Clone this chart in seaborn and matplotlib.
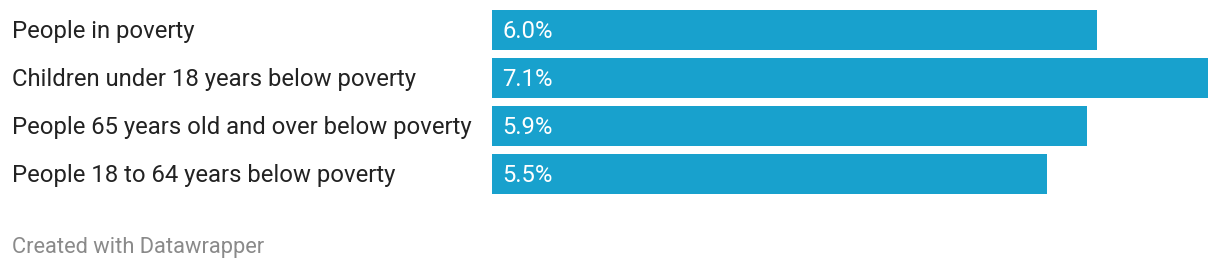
import matplotlib
matplotlib.use("Agg")
import matplotlib.pyplot as plt
import matplotlib.transforms as mtransforms
import seaborn as sns
import pandas as pd

categories = [
    "People in poverty",
    "Children under 18 years below poverty",
    "People 65 years old and over below poverty",
    "People 18 to 64 years below poverty",
]
values = [6.0, 7.1, 5.9, 5.5]
value_labels = ["6.0%", "7.1%", "5.9%", "5.5%"]

sns.set_theme(style="white")
plt.rcParams["font.family"] = ["Roboto", "DejaVu Sans"]

W, H = 1220, 270
fig = plt.figure(figsize=(W / 100, H / 100), dpi=100)
left, right = 492 / W, 1208 / W
top, bottom = 1 - 10 / H, 1 - 194 / H
ax = fig.add_axes([left, bottom, right - left, top - bottom])

df = pd.DataFrame({"cat": categories, "val": values})
bw = 40 / 48
sns.barplot(data=df, x="val", y="cat", orient="h", color="#18a1cd",
            saturation=1, width=bw, linewidth=0, ax=ax)
ax.set_xlim(0, max(values))
ax.set_ylim(len(categories) - 1 + bw / 2, -bw / 2)
ax.set_xlabel("")
ax.set_ylabel("")
ax.set_xticks([])
ax.set_yticks([])
for s in ax.spines.values():
    s.set_visible(False)

label_px = 23.9
base_off = -8 / 100  # baseline 8px below bar centre
trans = mtransforms.blended_transform_factory(fig.transFigure, ax.transData) + \
    mtransforms.ScaledTranslation(0, base_off, fig.dpi_scale_trans)
val_trans = ax.transData + mtransforms.ScaledTranslation(10 / 100, base_off, fig.dpi_scale_trans)
for i, (c, lab) in enumerate(zip(categories, value_labels)):
    ax.text(12 / W, i, c, transform=trans, ha="left", va="baseline",
            fontsize=label_px * 0.72, color="#222222")
    ax.text(0, i, lab, transform=val_trans, ha="left", va="baseline",
            fontsize=label_px * 0.72, color="white")

fig.text(12 / W, 1 - 253 / H, "Created with Datawrapper", ha="left",
         va="baseline", fontsize=21.9 * 0.72, color="#8a8a8a")

fig.savefig("out.png", dpi=100)
